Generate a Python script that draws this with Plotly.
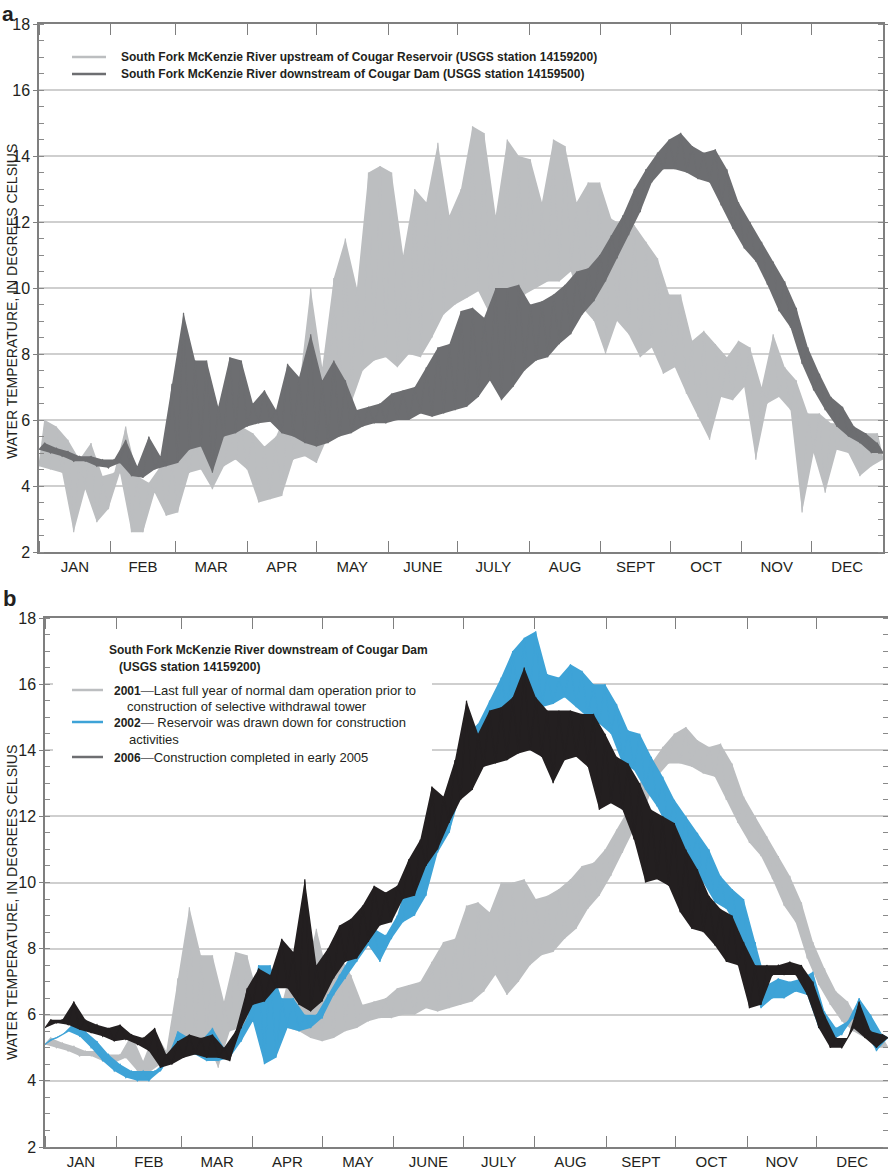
import plotly.graph_objects as go

# ---------------- data ----------------
# sampling grid: lower-envelope readings every 5 days, upper-envelope readings in between
DAYS_LO = list(range(0, 366, 5))                 # 74 sample days
DAYS_HI = [d + 2.5 for d in range(0, 361, 5)]    # 73 sample days

MONTH_STARTS = [0, 31, 59, 90, 120, 151, 181, 212, 243, 273, 304, 334, 365]
MONTH_MIDS = [15.5, 45, 74.5, 105, 135.5, 166, 196.5, 227.5, 258, 288.5, 319, 349.5]
MONTH_LABELS = ["JAN", "FEB", "MAR", "APR", "MAY", "JUNE", "JULY", "AUG", "SEPT", "OCT", "NOV", "DEC"]
Y_TICKS = [2, 4, 6, 8, 10, 12, 14, 16, 18]

# (a) upstream of Cougar Reservoir, USGS 14159200
up_lo = [4.6, 4.5, 4.4, 2.6, 3.9, 2.9, 3.3, 4.4, 2.6, 2.6, 3.8, 3.1, 3.2, 4.4, 4.5, 3.9, 4.6, 4.8, 4.5, 3.5,
         3.6, 3.7, 4.8, 4.9, 4.7, 5.5, 6.5, 6.5, 7.5, 7.8, 7.9, 7.6, 8.0, 7.9, 8.5, 9.2, 9.5, 9.7, 9.9, 9.2,
         9.3, 9.7, 9.8, 10.0, 10.2, 10.2, 10.5, 9.4, 9.0, 8.0, 9.0, 8.6, 7.9, 8.2, 7.4, 7.6, 6.8, 6.1, 5.4, 6.7,
         6.6, 7.0, 4.8, 6.5, 6.7, 6.3, 3.2, 5.0, 3.8, 5.1, 5.0, 4.3, 4.6, 4.8]
up_hi = [6.0, 5.8, 5.4, 4.8, 5.3, 4.3, 4.4, 5.8, 4.3, 4.1, 4.6, 4.8, 5.0, 5.5, 5.6, 5.4, 5.7, 5.8, 5.6, 5.2,
         5.5, 6.3, 7.0, 10.0, 7.6, 10.3, 11.5, 10.0, 13.5, 13.7, 13.5, 11.0, 13.0, 12.6, 14.4, 12.2, 13.0, 14.9, 14.7, 12.2,
         14.5, 14.0, 13.9, 12.6, 14.5, 14.3, 12.6, 13.2, 13.2, 12.1, 11.9, 11.9, 11.4, 10.9, 9.8, 9.8, 8.4, 8.7, 8.3, 7.9,
         8.4, 8.2, 7.0, 8.6, 7.6, 7.2, 6.2, 6.2, 5.9, 5.9, 5.7, 5.6, 5.6]

# downstream of Cougar Dam, 2001 (panel a dark gray, panel b light gray)
y2001_lo = [5.1, 5.0, 4.9, 4.75, 4.75, 4.6, 4.55, 4.7, 4.3, 4.25, 4.5, 4.6, 4.7, 5.1, 5.2, 4.4, 5.5, 5.6, 5.8, 5.9,
            5.95, 5.6, 5.5, 5.3, 5.2, 5.3, 5.5, 5.6, 5.8, 5.9, 5.9, 6.0, 6.0, 6.2, 6.1, 6.2, 6.3, 6.4, 6.7, 7.2,
            6.6, 7.0, 7.5, 7.8, 7.9, 8.3, 8.6, 9.2, 9.6, 10.2, 10.9, 11.6, 12.3, 13.2, 13.6, 13.6, 13.5, 13.3, 13.2, 12.5,
            11.8, 11.2, 10.8, 10.1, 9.3, 8.8, 7.7, 6.9, 6.3, 5.8, 5.5, 5.3, 5.0, 5.0]
y2001_hi = [5.3, 5.15, 5.05, 4.9, 4.9, 4.8, 4.8, 5.4, 4.6, 5.5, 4.9, 7.1, 9.25, 7.8, 7.8, 6.4, 7.9, 7.8, 6.5, 6.9,
            6.3, 7.7, 7.3, 8.6, 7.2, 7.8, 7.2, 6.3, 6.4, 6.5, 6.8, 6.9, 7.0, 7.6, 8.2, 8.3, 9.3, 9.4, 9.1, 10.0,
            10.0, 10.1, 9.5, 9.6, 9.8, 10.1, 10.5, 10.6, 11.0, 11.6, 12.2, 13.0, 13.6, 14.1, 14.5, 14.7, 14.3, 14.1, 14.2, 13.6,
            12.6, 12.0, 11.4, 10.8, 10.2, 9.4, 8.2, 7.4, 6.7, 6.4, 5.8, 5.6, 5.3]

# (b) 2002
y2002_lo = [5.1, 5.3, 5.5, 5.35, 5.0, 4.6, 4.3, 4.1, 4.0, 4.0, 4.3, 4.8, 4.8, 4.8, 4.6, 4.6, 4.7, 5.2, 5.8, 4.5,
            4.7, 5.6, 5.5, 5.6, 5.9, 6.6, 7.1, 7.6, 8.1, 7.6, 8.3, 8.8, 9.0, 9.6, 10.9, 11.5, 12.7, 13.6, 14.2, 14.6,
            15.2, 15.5, 15.8, 15.3, 15.4, 15.6, 15.3, 15.0, 14.8, 14.5, 13.6, 13.4, 12.8, 12.3, 11.6, 11.0, 10.6, 10.0, 9.4, 9.2,
            8.6, 7.0, 6.2, 6.5, 6.5, 6.7, 6.6, 5.6, 5.2, 5.4, 5.9, 5.5, 4.9, 5.3]
y2002_hi = [5.25, 5.4, 5.75, 5.5, 5.2, 4.8, 4.5, 4.3, 4.3, 4.3, 4.6, 5.5, 5.3, 5.2, 5.6, 5.0, 5.3, 5.9, 7.5, 7.5,
            6.5, 6.5, 6.0, 6.0, 6.6, 7.2, 7.8, 8.6, 8.6, 8.4, 9.0, 10.2, 10.2, 12.7, 12.0, 12.5, 14.5, 14.8, 15.5, 16.2,
            17.0, 17.4, 17.6, 16.3, 16.2, 16.6, 16.4, 16.0, 16.0, 15.4, 14.6, 14.5, 13.8, 13.2, 12.5, 12.0, 11.5, 11.0, 10.2, 9.8,
            9.5, 8.2, 6.9, 7.1, 7.0, 7.1, 7.3, 6.1, 5.6, 5.8, 6.5, 6.0, 5.4]

# (b) 2006
y2006_lo = [5.6, 5.75, 5.7, 5.55, 5.45, 5.35, 5.2, 5.25, 5.1, 4.9, 4.4, 4.5, 4.7, 4.8, 4.7, 4.7, 4.6, 5.6, 6.3, 6.4,
            6.8, 6.8, 6.3, 6.1, 6.4, 7.1, 7.6, 7.7, 8.2, 8.7, 8.8, 9.5, 9.6, 10.5, 11.0, 11.8, 12.5, 12.8, 13.5, 13.6,
            13.7, 13.9, 14.0, 13.8, 13.0, 13.7, 13.8, 13.5, 12.2, 12.4, 12.2, 11.3, 10.0, 10.1, 9.9, 9.1, 8.6, 8.5, 8.1, 7.6,
            7.5, 6.2, 6.3, 7.2, 7.2, 7.2, 6.6, 5.6, 5.0, 5.0, 5.6, 5.3, 5.0, 5.3]
y2006_hi = [5.85, 5.85, 6.4, 5.85, 5.7, 5.6, 5.7, 5.4, 5.3, 5.6, 4.8, 5.2, 5.4, 5.3, 5.4, 5.0, 5.5, 6.8, 7.4, 7.2,
            8.3, 7.9, 10.1, 7.5, 8.0, 8.7, 8.9, 9.3, 9.9, 9.7, 9.9, 10.7, 11.3, 12.9, 12.6, 13.7, 15.5, 14.5, 15.2, 15.3,
            15.6, 16.5, 15.6, 15.2, 15.2, 15.2, 15.1, 15.1, 14.5, 13.8, 13.6, 13.0, 12.2, 12.0, 11.8, 11.0, 10.4, 9.6, 9.2, 9.0,
            8.2, 7.5, 7.5, 7.5, 7.6, 7.5, 7.0, 6.0, 5.3, 5.3, 6.4, 5.5, 5.4]

for arr in (up_lo, y2001_lo, y2002_lo, y2006_lo):
    assert len(arr) == len(DAYS_LO), len(arr)
for arr in (up_hi, y2001_hi, y2002_hi, y2006_hi):
    assert len(arr) == len(DAYS_HI), len(arr)

# ---------------- styles ----------------
LIGHT = "#bcbec0"
DARK = "#6d6e71"
BLUE = "#3ea3d7"
BLACK = "#231f20"
AXIS = "#7f7f7f"
GRID = "#cfcfcf"
TXT = "#231f20"
FONT = "Liberation Sans, Arial, sans-serif"

W, H = 888, 1171


def px(x):
    return x / W


def py(y):
    return 1 - y / H


fig = go.Figure()


def add_series(lo, hi, color, xa, ya, width):
    # envelope band (between the lower and upper readings)
    fig.add_trace(go.Scatter(
        x=DAYS_HI + DAYS_LO[::-1], y=hi + lo[::-1], xaxis=xa, yaxis=ya,
        mode="lines", fill="toself", fillcolor=color,
        line=dict(width=0), hoverinfo="skip", showlegend=False))
    # oscillating record through the readings
    xs, ys = [], []
    for i in range(len(hi)):
        xs += [DAYS_LO[i], DAYS_HI[i]]
        ys += [lo[i], hi[i]]
    xs.append(DAYS_LO[-1])
    ys.append(lo[-1])
    fig.add_trace(go.Scatter(x=xs, y=ys, xaxis=xa, yaxis=ya, mode="lines",
                             line=dict(color=color, width=width), showlegend=False))


add_series(up_lo, up_hi, LIGHT, "x", "y", 1.2)
add_series(y2001_lo, y2001_hi, DARK, "x", "y", 1.2)
add_series(y2001_lo, y2001_hi, LIGHT, "x2", "y2", 1.2)
add_series(y2002_lo, y2002_hi, BLUE, "x2", "y2", 1.2)
add_series(y2006_lo, y2006_hi, BLACK, "x2", "y2", 1.2)


def xaxis_cfg(domain, anchor):
    return dict(domain=domain, anchor=anchor, range=[0, 365], showgrid=False, zeroline=False,
                automargin=False,
                tickmode="array", tickvals=MONTH_MIDS, ticktext=MONTH_LABELS, ticks="",
                tickfont=dict(size=15, color=TXT, family=FONT),
                showline=True, linecolor=AXIS, linewidth=1.5, mirror="ticks",
                minor=dict(tickmode="array", tickvals=MONTH_STARTS, ticks="inside", ticklen=11,
                           tickcolor=AXIS, tickwidth=1.3, showgrid=False))


def yaxis_cfg(domain, anchor):
    return dict(domain=domain, anchor=anchor, range=[2, 18], tickmode="array", tickvals=Y_TICKS,
                showgrid=True, gridcolor=GRID, gridwidth=1.6, zeroline=False, automargin=False,
                ticks="outside", ticklen=4, tickcolor=AXIS, tickwidth=1.2,
                tickfont=dict(size=16, color=TXT, family=FONT),
                showline=True, linecolor=AXIS, linewidth=1.5, mirror="ticks",
                minor=dict(dtick=0.5, tick0=2, ticks="inside", ticklen=5, tickcolor="#8a8a8a",
                           tickwidth=1.1, showgrid=False))


fig.update_layout(
    width=W, height=H, margin=dict(l=0, r=0, t=0, b=0, pad=0, autoexpand=False),
    paper_bgcolor="white", plot_bgcolor="white",
    font=dict(family=FONT, color=TXT),
    showlegend=False,
    xaxis=xaxis_cfg([px(39), px(883)], "y"),
    yaxis=yaxis_cfg([py(552), py(24)], "x"),
    xaxis2=xaxis_cfg([px(45), 1.0], "y2"),
    yaxis2=yaxis_cfg([py(1147), py(618)], "x2"),
)

shapes = []
annotations = []

# panel letters and axis titles
annotations.append(dict(text="<b>a</b>", x=0.0, y=1.0, xref="paper", yref="paper",
                        xanchor="left", yanchor="top", showarrow=False, font=dict(size=21, color=TXT)))
annotations.append(dict(text="<b>b</b>", x=px(1), y=py(584), xref="paper", yref="paper",
                        xanchor="left", yanchor="top", showarrow=False, font=dict(size=22, color=TXT)))
for yc in (302, 903):
    annotations.append(dict(text="WATER TEMPERATURE, IN DEGREES CELSIUS", textangle=-90,
                            x=px(12), y=py(yc), xref="paper", yref="paper", xanchor="center",
                            yanchor="middle", showarrow=False, font=dict(size=14, color=TXT)))

# legend, panel a
for yy, col, label in [
    (57, LIGHT, "South Fork McKenzie River upstream of Cougar Reservoir (USGS station 14159200)"),
    (74, DARK, "South Fork McKenzie River downstream of Cougar Dam (USGS station 14159500)"),
]:
    shapes.append(dict(type="line", xref="paper", yref="paper", x0=px(72), x1=px(106),
                       y0=py(yy), y1=py(yy), line=dict(color=col, width=2.5)))
    annotations.append(dict(text="<b>%s</b>" % label, x=px(119), y=py(yy), xref="paper", yref="paper",
                            xanchor="left", yanchor="middle", showarrow=False, font=dict(size=12, color=TXT)))

# legend, panel b
shapes.append(dict(type="rect", xref="paper", yref="paper", x0=px(53), x1=px(432),
                   y0=py(771), y1=py(636), fillcolor="white", line=dict(width=0), layer="above"))
annotations.append(dict(text="<b>South Fork McKenzie River downstream of Cougar Dam</b>", x=px(107), y=py(650),
                        xref="paper", yref="paper", xanchor="left", yanchor="middle", showarrow=False,
                        font=dict(size=12, color=TXT)))
annotations.append(dict(text="<b>(USGS station 14159200)</b>", x=px(117), y=py(667),
                        xref="paper", yref="paper", xanchor="left", yanchor="middle", showarrow=False,
                        font=dict(size=12, color=TXT)))
entries = [
    (690, LIGHT, "2001", "Last full year of normal dam operation prior to",
     (125, 706, "construction of selective withdrawal tower")),
    (722, BLUE, "2002", " Reservoir was drawn down for construction", (127, 739, "activities")),
    (757, DARK, "2006", "Construction completed in early 2005", None),
]
for yy, col, yr, txt, cont in entries:
    shapes.append(dict(type="line", xref="paper", yref="paper", x0=px(72), x1=px(103),
                       y0=py(yy), y1=py(yy), line=dict(color=col, width=2.5)))
    annotations.append(dict(text="<span style='font-size:12px'><b>%s</b></span><span style='color:#6d6e71'>\u2014</span>%s" % (yr, txt),
                            x=px(112), y=py(yy), xref="paper", yref="paper", xanchor="left",
                            yanchor="middle", showarrow=False, font=dict(size=13, color=TXT)))
    if cont:
        annotations.append(dict(text=cont[2], x=px(cont[0]), y=py(cont[1]), xref="paper", yref="paper",
                                xanchor="left", yanchor="middle", showarrow=False,
                                font=dict(size=13, color=TXT)))

fig.update_layout(shapes=shapes, annotations=annotations)

fig.write_html("out.html", config={"displayModeBar": False},
               post_script="document.body.style.margin='0';")
